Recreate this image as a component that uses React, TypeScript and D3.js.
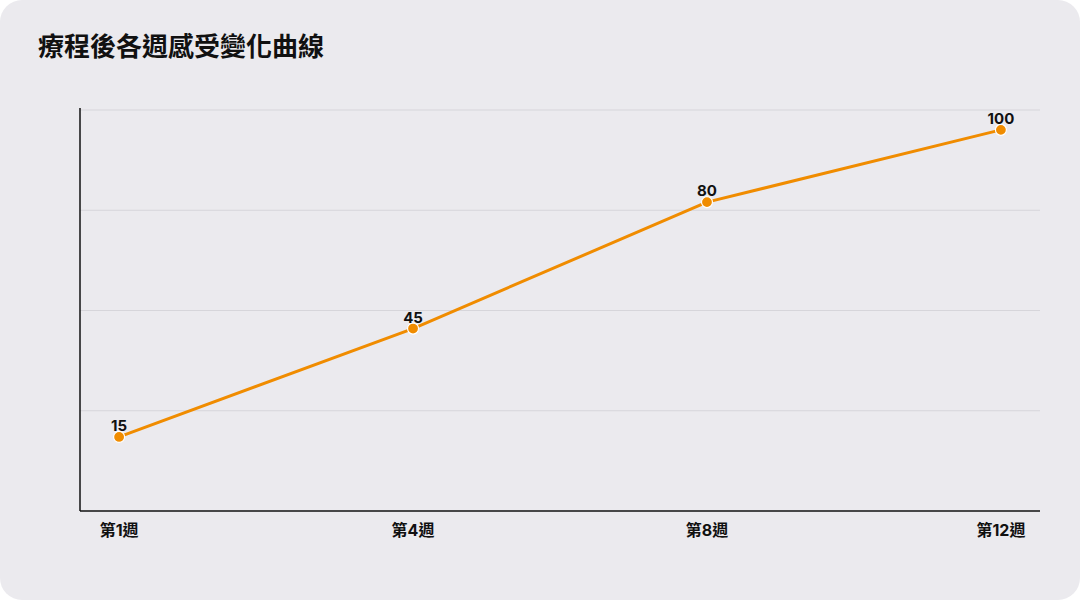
import * as d3 from "d3";

const weeks = ["第1週", "第4週", "第8週", "第12週"];
const feeling = [15, 45, 80, 100];
const yDomain: [number, number] = [-5.5, 105.5];
const gridCount = 4;

const W = 1080;
const H = 600;
const FONT = 'Inter, "Noto Sans CJK TC", "Noto Sans", sans-serif';

export default function App() {
  const left = 80;
  const right = 1040;
  const top = 110;
  const bottom = 511;

  const x = d3.scalePoint<string>().domain(weeks).range([left, right]).padding(0.133);
  const y = d3.scaleLinear().domain(yDomain).range([bottom, top]);
  const grid = d3.range(gridCount + 1).map((i) => top + ((bottom - top) * i) / gridCount);

  const pts = weeks.map((w, i) => ({ w, v: feeling[i] }));
  const line = d3
    .line<(typeof pts)[number]>()
    .x((d) => x(d.w) ?? 0)
    .y((d) => y(d.v));

  return (
    <svg
      width={W}
      height={H}
      viewBox={`0 0 ${W} ${H}`}
      style={{ position: "absolute", left: 0, top: 0, display: "block", fontFamily: FONT }}
    >
      <rect x={0} y={0} width={W} height={H} fill="#ffffff" />
      <rect x={0} y={0} width={W} height={H} rx={22} fill="#ebeaee" />
      <text x={38} y={56} fontSize={26} fontWeight={700} fill="#111">
        療程後各週感受變化曲線
      </text>

      {grid.slice(0, -1).map((gy) => (
        <line key={gy} x1={left} x2={right} y1={gy} y2={gy} stroke="#d6d5da" strokeWidth={1} />
      ))}
      <line x1={left} x2={left} y1={top - 2} y2={bottom} stroke="#111" strokeWidth={1.5} />
      <line x1={left} x2={right} y1={bottom} y2={bottom} stroke="#111" strokeWidth={1.5} />

      {weeks.map((w) => (
        <text
          key={w}
          x={x(w)}
          y={536}
          textAnchor="middle"
          fontSize={16}
          fontWeight={700}
          fill="#111"
        >
          {w}
        </text>
      ))}

      <path d={line(pts) ?? ""} fill="none" stroke="#f08c00" strokeWidth={3} strokeLinejoin="round" />
      {pts.map((d) => (
        <g key={d.w}>
          <circle cx={x(d.w)} cy={y(d.v)} r={5.5} fill="#f08c00" stroke="#ffffff" strokeWidth={1.2} />
          <text
            x={x(d.w)}
            y={y(d.v) - 6}
            textAnchor="middle"
            fontSize={15}
            fontWeight={700}
            fill="#111"
          >
            {d.v}
          </text>
        </g>
      ))}
    </svg>
  );
}
